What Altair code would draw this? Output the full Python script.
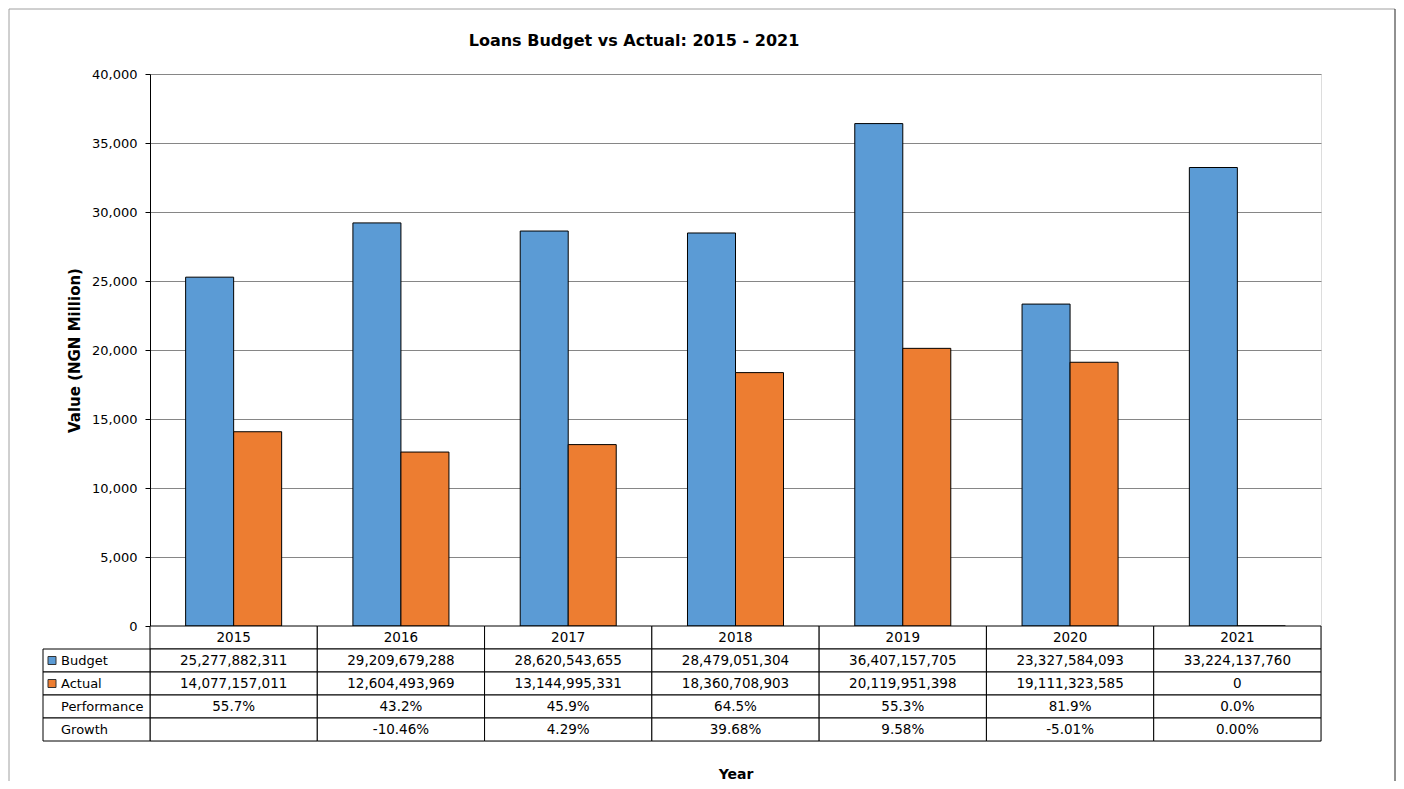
import altair as alt
import pandas as pd

years = ["2015", "2016", "2017", "2018", "2019", "2020", "2021"]
budget = [25277882311, 29209679288, 28620543655, 28479051304, 36407157705, 23327584093, 33224137760]
actual = [14077157011, 12604493969, 13144995331, 18360708903, 20119951398, 19111323585, 0]
performance = ["55.7%", "43.2%", "45.9%", "64.5%", "55.3%", "81.9%", "0.0%"]
growth = ["", "-10.46%", "4.29%", "39.68%", "9.58%", "-5.01%", "0.00%"]
series = ["Budget", "Actual"]
colors = ["#5B9BD5", "#ED7D31"]
y_ticks = [0, 5000, 10000, 15000, 20000, 25000, 30000, 35000, 40000]
title_text = "Loans Budget vs Actual: 2015 - 2021"
row_order = ["Header", "Budget", "Actual", "Performance", "Growth"]

FONT = "DejaVu Sans"

# ---- bar data ----
bar_rows = []
for i, y in enumerate(years):
    bar_rows.append({"Year": y, "Series": "Budget", "Value": budget[i] / 1e6})
    bar_rows.append({"Year": y, "Series": "Actual", "Value": actual[i] / 1e6})
bar_df = pd.DataFrame(bar_rows)

# ---- table data ----
tab_rows = []
for i, y in enumerate(years):
    tab_rows.append({"Year": y, "Row": "Header", "Text": y})
    tab_rows.append({"Year": y, "Row": "Budget", "Text": f"{budget[i]:,}"})
    tab_rows.append({"Year": y, "Row": "Actual", "Text": f"{actual[i]:,}"})
    tab_rows.append({"Year": y, "Row": "Performance", "Text": performance[i]})
    tab_rows.append({"Year": y, "Row": "Growth", "Text": growth[i]})
tab_df = pd.DataFrame(tab_rows)
label_df = pd.DataFrame({"Row": row_order[1:], "Label": row_order[1:]})
legend_df = pd.DataFrame({"Row": series, "Series": series})
one = pd.DataFrame({"a": [0]})

W, H = 1171, 552
TH = 115

color_scale = alt.Scale(domain=series, range=colors)

bars = alt.Chart(bar_df).mark_bar(stroke="black", strokeWidth=1).encode(
    x=alt.X("Year:N", sort=years, axis=None,
            scale=alt.Scale(paddingInner=0.426, paddingOuter=0.213)),
    xOffset=alt.XOffset("Series:N", sort=series),
    y=alt.Y("Value:Q", scale=alt.Scale(domain=[0, 40000]),
            axis=alt.Axis(values=y_ticks, format=",d", title="Value (NGN Million)",
                          labelFont=FONT, labelFontSize=13, labelColor="black",
                          labelPadding=8, tickSize=5, tickColor="black",
                          domainColor="black", gridColor="#868686",
                          titleFont=FONT, titleFontSize=15, titleFontWeight="bold",
                          titleColor="black", titlePadding=9)),
    color=alt.Color("Series:N", scale=color_scale, legend=None),
)

title = alt.Chart(one).mark_text(font=FONT, fontSize=16, fontWeight="bold",
                                 align="center", baseline="middle", color="black").encode(
    x=alt.value(484), y=alt.value(-33), text=alt.value(title_text))

border_left = alt.Chart(one).mark_rule(color="#a0a0a0", strokeWidth=1).encode(
    x=alt.value(-141), y=alt.value(-65), y2=alt.value(707))
border_top = alt.Chart(one).mark_rule(color="#a0a0a0", strokeWidth=1).encode(
    x=alt.value(-141), x2=alt.value(1245), y=alt.value(-65))
border_right = alt.Chart(one).mark_rule(color="#222222", strokeWidth=1).encode(
    x=alt.value(1245), y=alt.value(-65), y2=alt.value(707))

bar_chart = alt.layer(border_left, border_top, border_right, title, bars).properties(
    width=W, height=H)

# ---- table ----
xt = alt.X("Year:N", sort=years, scale=alt.Scale(paddingInner=0, paddingOuter=0),
           axis=alt.Axis(labels=False, ticks=False, domain=False, grid=False,
                         title="Year", titleFont=FONT, titleFontSize=14,
                         titleFontWeight="bold", titleColor="black", titlePadding=26))
yt = alt.Y("Row:N", sort=row_order, scale=alt.Scale(domain=row_order, paddingInner=0, paddingOuter=0),
           axis=None)

cells = alt.Chart(tab_df).mark_rect(fill="white", stroke="black", strokeWidth=1).encode(
    x=xt, y=yt)
cell_text = alt.Chart(tab_df).mark_text(font=FONT, fontSize=13.5, color="black",
                                        baseline="middle").encode(
    x=xt, y=yt, text="Text:N")
label_cells = alt.Chart(label_df).mark_rect(fill="white", stroke="black", strokeWidth=1).encode(
    x=alt.value(-107), x2=alt.value(0), y=yt)
label_text = alt.Chart(label_df).mark_text(font=FONT, fontSize=13, color="black",
                                           align="left", baseline="middle").encode(
    x=alt.value(-89), y=yt, text="Label:N")
legend_sq = alt.Chart(legend_df).mark_square(size=64, opacity=1, filled=True,
                                             stroke="#333333", strokeWidth=1).encode(
    x=alt.value(-98), y=yt,
    color=alt.Color("Series:N", scale=color_scale, legend=None))

table_chart = alt.layer(cells, cell_text, label_cells, label_text, legend_sq).properties(
    width=W, height=TH)

chart = alt.vconcat(bar_chart, table_chart, spacing=0, bounds="flush").resolve_scale(
    x="independent", y="independent"
).properties(padding=0).configure_view(stroke="#868686").configure(font=FONT)

chart.save("out.html", embed_options={"renderer": "svg", "actions": False})
